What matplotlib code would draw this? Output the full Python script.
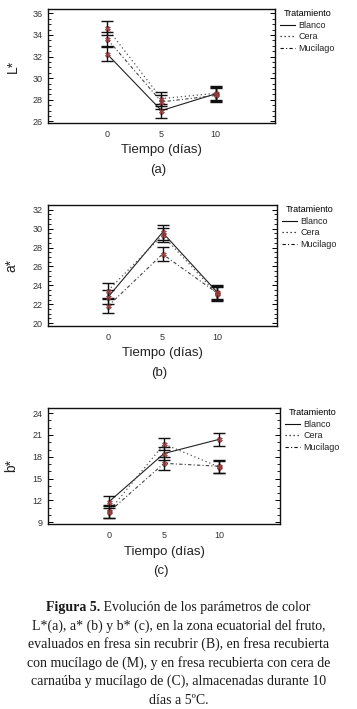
import numpy as np
import matplotlib
matplotlib.use("Agg")
from matplotlib import pyplot as plt
from matplotlib.ticker import MultipleLocator, AutoMinorLocator

dias = [0, 5, 10]
tratamientos = ["Blanco", "Cera", "Mucilago"]

L_blanco = [32.2, 27.0, 28.55]
L_cera = [34.6, 28.1, 28.6]
L_mucilago = [33.6, 27.8, 28.4]
L_error = 0.65

a_blanco = [22.75, 29.6, 23.3]
a_cera = [23.45, 29.3, 23.1]
a_mucilago = [21.8, 27.3, 23.2]
a_error = 0.75

b_blanco = [11.8, 18.45, 20.4]
b_cera = [10.5, 19.75, 16.6]
b_mucilago = [10.4, 17.1, 16.7]
b_error = 0.87

caption_lines = ["L*(a), a* (b) y b* (c), en la zona ecuatorial del fruto,",
                 "evaluados en fresa sin recubrir (B), en fresa recubierta",
                 "con mucílago de (M), y en fresa recubierta con cera de",
                 "carnaúba y mucílago de (C), almacenadas durante 10",
                 "días a 5ºC."]

W, H = 357, 709
plt.rcParams['font.family'] = ['Liberation Sans', 'DejaVu Sans']
fig = plt.figure(figsize=(W/100, H/100), dpi=100)

styles = {"Blanco": dict(ls="-", color="#222222", lw=0.8),
          "Cera": dict(ls=(0, (1, 2.2)), color="#555555", lw=0.9),
          "Mucilago": dict(ls=(0, (3, 2, 1, 2)), color="#444444", lw=0.8)}


def px_axes(left, top, right, bottom):
    return fig.add_axes([left/W, (H-bottom)/H, (right-left)/W, (bottom-top)/H])


def panel(ax, series, err, ylabel, ylim, ystep, nminor, letter, label_px):
    for name, vals in zip(tratamientos, series):
        ax.plot(dias, vals, label=name, **styles[name])
    for name, vals in zip(tratamientos, series):
        ax.errorbar(dias, vals, yerr=err, fmt="none", ecolor="#111111",
                    elinewidth=1.0, capsize=4, capthick=1.0)
    for vals in series:
        ax.plot(dias, vals, ls="none", marker="X", ms=3.6,
                color="#a04848", mec="#7a2a2a", mew=0.4, alpha=0.9)

    ax.set_xlim(-5.5, 15.5)
    ax.set_ylim(*ylim)
    ax.set_xticks(dias)
    ax.yaxis.set_major_locator(MultipleLocator(ystep))
    ax.yaxis.set_minor_locator(AutoMinorLocator(nminor))
    ax.tick_params(axis="y", which="both", direction="in", left=True,
                   right=True, labelsize=6.5, labelcolor="#333333", pad=4)
    ax.tick_params(axis="y", which="major", length=3.5, width=0.7)
    ax.tick_params(axis="y", which="minor", length=2, width=0.6)
    ax.tick_params(axis="x", length=0, labelsize=6.5, labelcolor="#333333",
                   pad=5)
    for s in ax.spines.values():
        s.set_linewidth(1.0)
        s.set_color("#111111")

    ax.set_xlabel("Tiempo (días)", fontsize=9.5, color="#222222", labelpad=4)
    ax.set_ylabel(ylabel, fontsize=10, color="#222222")
    pos = ax.get_position()
    ax.yaxis.set_label_coords((label_px/W - pos.x0) / pos.width, 0.5)

    leg = ax.legend(title="Tratamiento", loc="upper left",
                    bbox_to_anchor=(1.02, 1.0), frameon=False,
                    fontsize=6.5, title_fontsize=6.5, handlelength=1.75,
                    handletextpad=0.35, labelspacing=0.3, borderpad=0,
                    borderaxespad=0)
    for t in leg.get_texts():
        t.set_color("#222222")
    for h in leg.get_lines():
        h.set_color("#111111")

    fig.text(0.5 * (pos.x0 + pos.x1) - 0.01, pos.y0 - 47/H, letter,
             fontsize=9.5, ha="center", va="center", color="#222222")


ax_L = px_axes(48, 9, 275, 123)
panel(ax_L, [L_blanco, L_cera, L_mucilago], L_error, "L*",
      (25.85, 36.4), 2, 4, "(a)", 20)

ax_a = px_axes(48, 205, 277, 326)
panel(ax_a, [a_blanco, a_cera, a_mucilago], a_error, "a*",
      (19.7, 32.5), 2, 4, "(b)", 18)

ax_b = px_axes(48, 408, 280, 524)
panel(ax_b, [b_blanco, b_cera, b_mucilago], b_error, "b*",
      (8.77, 24.7), 3, 3, "(c)", 18)

# pie de figura: "Figura 5." en negrita y el resto normal
serif = ['Liberation Serif', 'DejaVu Serif']
y0 = 1 - 607/H
line_h = 18.6/H
renderer = fig.canvas.get_renderer()
t_bold = fig.text(0, y0, "Figura 5.", fontsize=10, fontweight="bold",
                  family=serif, va="center", color="#1a1a1a")
t_rest = fig.text(0, y0, " Evolución de los parámetros de color",
                  fontsize=10, family=serif, va="center", color="#1a1a1a")
w1 = t_bold.get_window_extent(renderer).width / W
w2 = t_rest.get_window_extent(renderer).width / W
x_start = 0.5 - (w1 + w2) / 2
t_bold.set_x(x_start)
t_rest.set_x(x_start + w1)
for i, line in enumerate(caption_lines):
    fig.text(0.5, y0 - (i + 1) * line_h, line, fontsize=10, family=serif,
             ha="center", va="center", color="#1a1a1a")

fig.savefig("out.png", dpi=100)
